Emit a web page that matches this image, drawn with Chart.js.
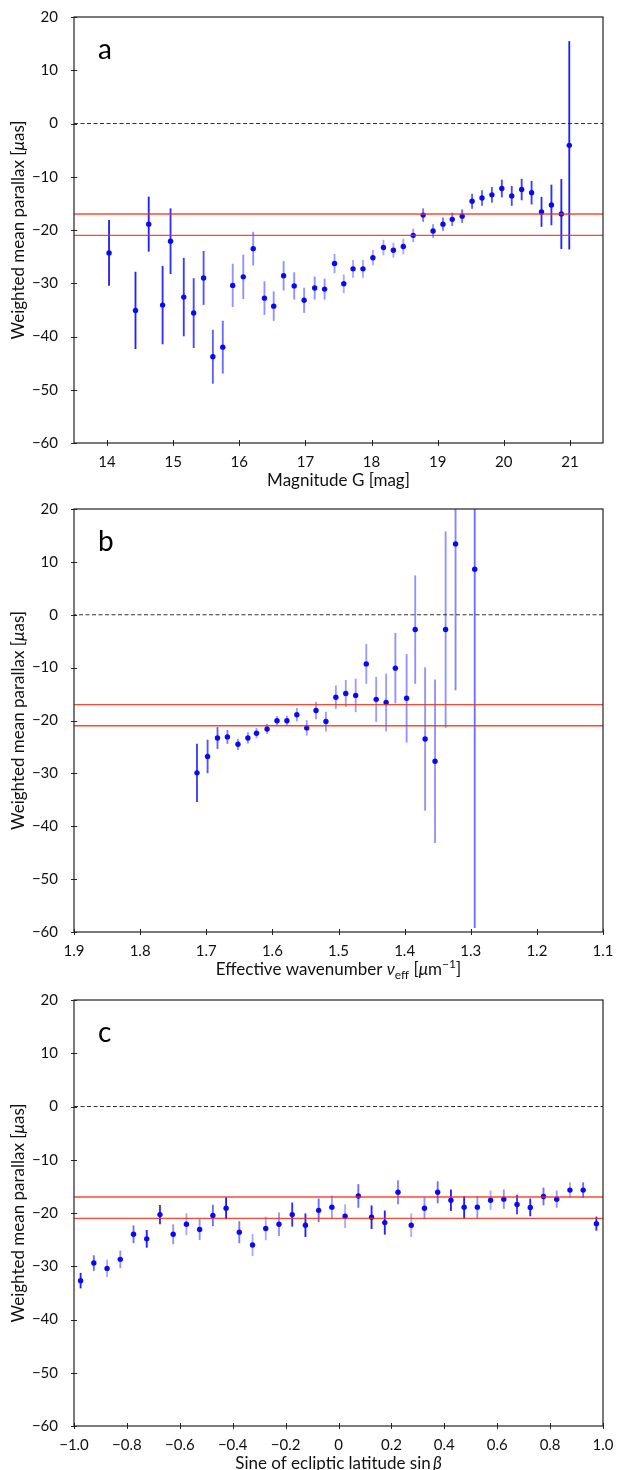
<!DOCTYPE html>
<html>
<head>
<meta charset="utf-8">
<script src="https://cdn.jsdelivr.net/npm/chart.js@4"></script>
<style>
  body { margin: 0; background: #fff; }
  canvas { position: absolute; left: 0; }
</style>
</head>
<body>
<canvas id="panelA" width="617" height="490" style="top:0"></canvas>
<canvas id="panelB" width="617" height="490" style="top:490px"></canvas>
<canvas id="panelC" width="617" height="490" style="top:980px"></canvas>
<script>
// panel a: magnitude bins
const magG = [14.03, 14.43, 14.63, 14.84, 14.96, 15.16, 15.31, 15.46, 15.60, 15.75,
  15.90, 16.06, 16.21, 16.38, 16.52, 16.67, 16.83, 16.98, 17.14, 17.29, 17.44,
  17.58, 17.72, 17.87, 18.02, 18.18, 18.33, 18.48, 18.63,
  18.78, 18.93, 19.08, 19.22, 19.37,
  19.52, 19.67, 19.82, 19.97, 20.12, 20.27, 20.42,
  20.57, 20.72, 20.87, 20.99];
const plxA = [-24.3, -35.1, -18.9, -34.1, -22.1, -32.6, -35.6, -29.0, -43.8, -42.0,
  -30.4, -28.8, -23.5, -32.8, -34.3, -28.6, -30.5, -33.2, -30.9, -31.1, -26.3,
  -30.1, -27.3, -27.3, -25.2, -23.3, -23.8, -23.1, -21.0,
  -17.2, -20.2, -18.9, -18.0, -17.4,
  -14.6, -14.0, -13.4, -12.2, -13.6, -12.4, -13.0,
  -16.6, -15.3, -17.0, -4.1];
const errA = [6.1, 7.2, 5.1, 7.3, 6.1, 7.3, 6.5, 5.0, 5.0, 4.9,
  4.0, 4.1, 3.1, 3.1, 2.7, 2.7, 2.5, 2.3, 2.1, 1.9, 1.75,
  1.7, 1.6, 1.6, 1.4, 1.4, 1.35, 1.4, 1.2,
  1.2, 1.2, 1.2, 1.2, 1.2,
  1.35, 1.4, 1.4, 1.6, 1.8, 1.95, 2.15,
  2.75, 3.75, 6.5, 19.5];
const weightA = [0.9, 0.9, 0.9, 0.85, 0.85, 0.8, 0.75, 0.7, 0.65, 0.6,
  0.45, 0.45, 0.45, 0.45, 0.45, 0.45, 0.45, 0.45, 0.45, 0.45, 0.4,
  0.35, 0.35, 0.35, 0.35, 0.35, 0.35, 0.35, 0.4,
  0.55, 0.45, 0.55, 0.55, 0.6,
  0.65, 0.65, 0.7, 0.75, 0.75, 0.8, 0.8,
  0.85, 0.85, 0.9, 0.9];

// panel b: effective wavenumber bins
const nuEff = [1.714, 1.698, 1.683, 1.668, 1.652, 1.637, 1.624, 1.608, 1.593, 1.578,
  1.563, 1.548, 1.534, 1.519, 1.504, 1.489, 1.474, 1.458, 1.443, 1.428,
  1.414, 1.397, 1.384, 1.369, 1.354, 1.338, 1.323, 1.294];
const plxB = [-29.9, -26.8, -23.3, -23.1, -24.5, -23.3, -22.4, -21.6, -20.05, -20.05,
  -18.9, -21.4, -18.1, -20.2, -15.6, -14.9, -15.25, -9.3, -16.0, -16.6,
  -10.1, -15.8, -2.8, -23.5, -27.7, -2.8, 13.4, 8.6];
const errB = [5.45, 3.1, 2.0, 1.25, 1.0, 1.0, 0.9, 0.9, 0.85, 0.9,
  1.2, 1.4, 1.6, 1.8, 2.15, 2.5, 3.1, 3.7, 4.2, 5.4,
  6.6, 8.3, 10.2, 13.5, 15.4, 18.5, 27.6, 67.8];
const weightB = [0.8, 0.7, 0.65, 0.55, 0.45, 0.45, 0.4, 0.4, 0.4, 0.4,
  0.4, 0.4, 0.4, 0.4, 0.4, 0.4, 0.4, 0.4, 0.4, 0.4,
  0.45, 0.45, 0.45, 0.45, 0.45, 0.45, 0.5, 0.6];

// panel c: ecliptic latitude bins
const sinBeta = [-0.975, -0.925, -0.875, -0.825, -0.775, -0.725, -0.675, -0.625, -0.575, -0.525,
  -0.475, -0.425, -0.375, -0.325, -0.275, -0.225, -0.175, -0.125, -0.075, -0.025,
  0.025, 0.075, 0.125, 0.175, 0.225, 0.275, 0.325, 0.375, 0.425, 0.475,
  0.525, 0.575, 0.625, 0.675, 0.725, 0.775, 0.825, 0.875, 0.925, 0.975];
const plxC = [-32.7, -29.4, -30.4, -28.7, -24.0, -24.85, -20.3, -24.0, -22.1, -23.1,
  -20.45, -19.1, -23.6, -26.0, -22.9, -22.1, -20.3, -22.3, -19.5, -18.9,
  -20.6, -16.8, -20.8, -21.8, -16.1, -22.3, -19.1, -16.1, -17.6, -18.9,
  -18.9, -17.6, -17.4, -18.4, -18.95, -16.9, -17.4, -15.7, -15.7, -22.0];
const errC = [1.4, 1.4, 1.55, 1.6, 1.6, 1.6, 1.75, 1.8, 2.0, 1.9,
  1.95, 2.0, 2.0, 2.0, 2.15, 2.15, 2.2, 2.15, 2.15, 2.1,
  2.15, 2.15, 2.15, 2.2, 2.2, 2.15, 2.0, 2.0, 1.95, 2.0,
  2.0, 1.75, 1.75, 1.75, 1.6, 1.6, 1.55, 1.4, 1.4, 1.25];
const weightC = [0.9, 0.6, 0.35, 0.45, 0.6, 0.9, 0.85, 0.45, 0.35, 0.45,
  0.6, 0.9, 0.55, 0.35, 0.35, 0.45, 0.85, 0.9, 0.6, 0.4,
  0.35, 0.6, 0.9, 0.9, 0.5, 0.35, 0.45, 0.6, 0.9, 0.9,
  0.45, 0.35, 0.45, 0.8, 0.9, 0.6, 0.45, 0.35, 0.6, 0.9];

// reference levels
const zeroLevel = 0;
const refLevels = [-17, -21];

// ticks
const yTicks = [20, 10, 0, -10, -20, -30, -40, -50, -60];
const yTickLabels = ['20', '10', '0', '\u221210', '\u221220', '\u221230', '\u221240', '\u221250', '\u221260'];
const xTicksA = [14, 15, 16, 17, 18, 19, 20, 21];
const xTickLabelsA = ['14', '15', '16', '17', '18', '19', '20', '21'];
const xTicksB = [1.9, 1.8, 1.7, 1.6, 1.5, 1.4, 1.3, 1.2, 1.1];
const xTickLabelsB = ['1.9', '1.8', '1.7', '1.6', '1.5', '1.4', '1.3', '1.2', '1.1'];
const xTicksC = [-1, -0.8, -0.6, -0.4, -0.2, 0, 0.2, 0.4, 0.6, 0.8, 1];
const xTickLabelsC = ['\u22121.0', '\u22120.8', '\u22120.6', '\u22120.4', '\u22120.2', '0', '0.2', '0.4', '0.6', '0.8', '1.0'];

const FONT = 'Lato, "DejaVu Sans", sans-serif';
const TITLE_SIZE = 17;
Chart.defaults.font.family = FONT;
Chart.defaults.font.size = 15;
Chart.defaults.color = '#111';

const yTitle = [['Weighted mean parallax [', ''], ['\u03bc', 'i'], ['as]', '']];

// mixed-style text (italic symbols, sub/superscripts)
function drawRich(ctx, segs, x, y, size, rotated) {
  const fontFor = st => (st === 'i' ? 'italic ' : '') +
    (st === 'sub' || st === 'sup' ? Math.round(size * 0.7) : size) + 'px ' + FONT;
  let total = 0;
  const widths = segs.map(([t, st]) => { ctx.font = fontFor(st); const w = ctx.measureText(t).width; total += w; return w; });
  ctx.save();
  ctx.translate(x, y);
  if (rotated) ctx.rotate(-Math.PI / 2);
  ctx.textBaseline = 'middle';
  ctx.textAlign = 'left';
  ctx.fillStyle = '#111';
  let cx = -total / 2;
  segs.forEach(([t, st], i) => {
    ctx.font = fontFor(st);
    const dy = st === 'sub' ? size * 0.3 : st === 'sup' ? -size * 0.35 : 0;
    ctx.fillText(t, cx, dy);
    cx += widths[i];
  });
  ctx.restore();
}

const decor = {
  id: 'decor',
  afterDraw(chart, args, o) {
    const { ctx, chartArea: a, scales } = chart;
    ctx.save();
    ctx.strokeStyle = '#222';
    ctx.lineWidth = 1.2;
    ctx.strokeRect(a.left, a.top, a.right - a.left, a.bottom - a.top);
    ctx.lineWidth = 1;
    ctx.beginPath();
    scales.x.ticks.forEach(t => {
      const px = Math.round(scales.x.getPixelForValue(t.value)) + 0.5;
      ctx.moveTo(px, a.bottom - 3); ctx.lineTo(px, a.bottom + 3);
    });
    scales.y.ticks.forEach(t => {
      const py = Math.round(scales.y.getPixelForValue(t.value)) + 0.5;
      ctx.moveTo(a.left - 3, py); ctx.lineTo(a.left + 3, py);
    });
    ctx.stroke();
    ctx.font = '28px ' + FONT;
    ctx.fillStyle = '#000';
    ctx.textBaseline = 'alphabetic';
    ctx.textAlign = 'left';
    ctx.fillText(o.label, a.left + 24, a.top + 42);
    ctx.restore();
    drawRich(ctx, o.xTitle, (a.left + a.right) / 2, a.bottom + 38, TITLE_SIZE, false);
    drawRich(ctx, yTitle, 19, (a.top + a.bottom) / 2, TITLE_SIZE, true);
  }
};

function makePanel(id, p) {
  const bars = p.xs.map((x, i) => ({ x, y: [p.ys[i] - p.errs[i], p.ys[i] + p.errs[i]] }));
  const pts = p.xs.map((x, i) => ({ x, y: p.ys[i] }));
  const hline = v => [{ x: p.xMin, y: v }, { x: p.xMax, y: v }];
  return new Chart(document.getElementById(id).getContext('2d'), {
    type: 'scatter',
    data: {
      datasets: [
        { type: 'line', data: hline(zeroLevel), borderColor: '#333', borderWidth: 1,
          borderDash: [4, 2.5], pointRadius: 0, order: 4 },
        ...refLevels.map(v => ({ type: 'line', data: hline(v), borderColor: 'rgba(255,40,15,0.85)',
          borderWidth: 1.4, pointRadius: 0, order: 0 })),
        { type: 'bar', data: bars, backgroundColor: p.weights.map(w => `rgba(10,10,255,${w})`),
          borderWidth: 0, barThickness: 1.2, grouped: false, clip: 0, order: 3 },
        { data: pts, backgroundColor: 'rgb(10,10,240)', borderWidth: 0, pointRadius: 2.7, order: 1 }
      ]
    },
    options: {
      responsive: false,
      animation: false,
      layout: { padding: { top: p.padTop, right: 14, left: 0, bottom: 0 } },
      scales: {
        x: {
          type: 'linear', min: p.xMin, max: p.xMax, reverse: !!p.reverse, offset: false,
          grid: { display: false }, border: { display: false },
          afterBuildTicks: s => { s.ticks = p.xTicks.map(v => ({ value: v })); },
          ticks: { padding: 2, autoSkip: false, maxRotation: 0, callback: (v, i) => p.xLabels[i] },
          afterFit: s => { s.height = p.xAxisH; }
        },
        y: {
          min: -60, max: 20,
          grid: { display: false }, border: { display: false },
          afterBuildTicks: s => { s.ticks = yTicks.map(v => ({ value: v })); },
          ticks: { padding: 8, autoSkip: false, callback: (v, i) => yTickLabels[i] },
          afterFit: s => { s.width = 74; }
        }
      },
      plugins: {
        legend: { display: false },
        tooltip: { enabled: false },
        decor: { label: p.label, xTitle: p.xTitle }
      }
    },
    plugins: [decor]
  });
}

makePanel('panelA', {
  xs: magG, ys: plxA, errs: errA, weights: weightA, xMin: 13.5, xMax: 21.5,
  xTicks: xTicksA, xLabels: xTickLabelsA, padTop: 17, xAxisH: 47, label: 'a',
  xTitle: [['Magnitude G [mag]', '']]
});
makePanel('panelB', {
  xs: nuEff, ys: plxB, errs: errB, weights: weightB, xMin: 1.1, xMax: 1.9, reverse: true,
  xTicks: xTicksB, xLabels: xTickLabelsB, padTop: 19, xAxisH: 48, label: 'b',
  xTitle: [['Effective wavenumber ', ''], ['\u03bd', 'i'], ['eff', 'sub'], [' [', ''], ['\u03bc', 'i'], ['m', ''], ['\u22121', 'sup'], [']', '']]
});
makePanel('panelC', {
  xs: sinBeta, ys: plxC, errs: errC, weights: weightC, xMin: -1, xMax: 1,
  xTicks: xTicksC, xLabels: xTickLabelsC, padTop: 20, xAxisH: 44, label: 'c',
  xTitle: [['Sine of ecliptic latitude sin\u2009', ''], ['\u03b2', 'i']]
});
</script>
</body>
</html>
